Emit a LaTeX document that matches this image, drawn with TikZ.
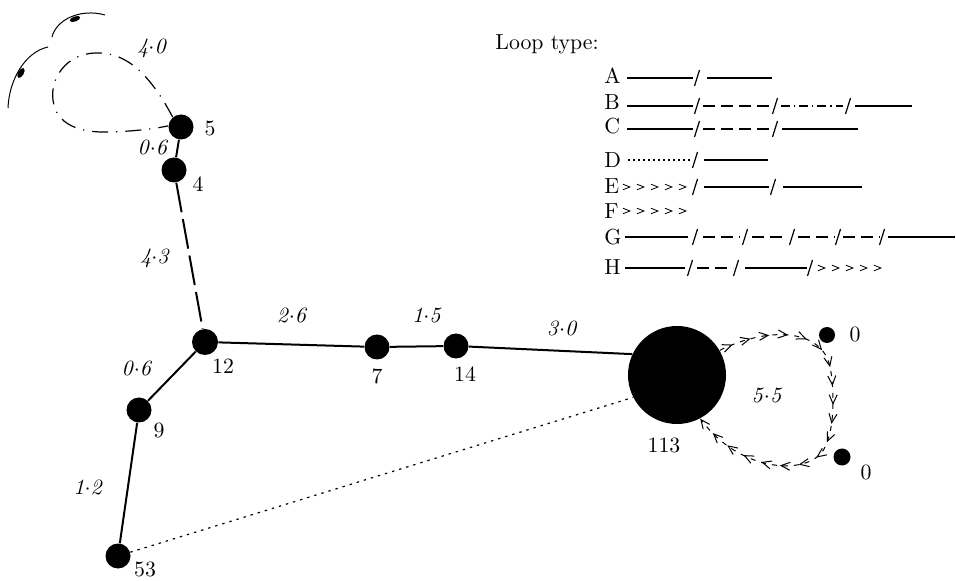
\documentclass[tikz,border=0pt]{standalone}
\usepackage{fontspec}
\usetikzlibrary{arrows.meta,decorations.markings}

% slash marks of the legend rows
\newcommand\lslash[2]{\foreach \sx in {#1} \draw[line width=0.6pt] ({\sx-2.5},{#2+8}) -- ({\sx+2.5},{#2-8});}
% loop length, e.g. 4.0
\newcommand\wlab[2]{\textit{#1}\ensuremath{\cdot}\textit{#2}}

\begin{document}
\begin{tikzpicture}[x=0.5pt,y=-0.5pt,font=\fontsize{10.9}{13}\selectfont,
  vtx/.style={circle,fill,inner sep=0pt,minimum size=#1},
  edge/.style={line width=1pt},
  legsolid/.style={line width=1.3pt},
  legdash/.style={line width=0.6pt,dash pattern=on 6pt off 3pt},
  legdashdot/.style={line width=0.6pt,dash pattern=on 4.5pt off 2pt on 0.6pt off 2pt},
  legdot/.style={line width=0.6pt,dash pattern=on 0.8pt off 1.7pt},
  chevs/.style={postaction={decorate,decoration={markings,
      mark=between positions #1 with {\arrow{>}}}}}]
\useasboundingbox (0,0) rectangle (956,581);

% nodes
\node[vtx=12.5pt] (n5) at (181,127) {};
\node[vtx=12.5pt] (n4) at (174,170) {};
\node[vtx=13pt] (n12) at (205,342) {};
\node[vtx=12.5pt] (n7) at (377,347) {};
\node[vtx=12.5pt] (n14) at (456,346) {};
\node[vtx=12.5pt] (n9) at (139,410) {};
\node[vtx=12.5pt] (n53) at (118,556) {};
\node[vtx=49pt] (n113) at (677,375) {};
\node[vtx=8pt] (n0a) at (827,335) {};
\node[vtx=8.5pt] (n0b) at (842,457) {};

\node (l5) at (210,128) {5};
\node (l4) at (198,184) {4};
\node (l12) at (223,366) {12};
\node (l7) at (377,376) {7};
\node (l14) at (465,374) {14};
\node (l9) at (159,430) {9};
\node (l53) at (145,569) {53};
\node (l113) at (664,445) {113};
\node (l0a) at (855,334) {0};
\node (l0b) at (866,472) {0};

% loop lengths
\node (w40) at (152,48) {\wlab40};
\node (w54) at (153,147) {\wlab06};
\node (w412) at (155,258) {\wlab43};
\node (w127) at (292,315) {\wlab26};
\node (w714) at (427,315) {\wlab15};
\node (w14113) at (562,328) {\wlab30};
\node (w129) at (137,368) {\wlab06};
\node (w953) at (88,487) {\wlab12};
\node (w113) at (767,395) {\wlab55};

% connections
\draw[edge] (n5) -- (n4);
\draw[edge,dash pattern=on 15pt off 3.5pt] (n4) -- (n12);
\draw[edge] (n12) -- (n7) -- (n14);
\draw[edge] (n14) -- (n113.155);
\draw[edge] (n12) -- (n9) -- (n53);
\draw[line width=0.6pt,dash pattern=on 1.2pt off 2.5pt] (n53) -- (n113.207);

\draw[line width=0.6pt,dash pattern=on 8pt off 4pt on 0.6pt off 4pt]
  (n5.130) .. controls (145,65) and (120,52) .. (95,53)
  .. controls (65,54) and (50,80) .. (53,100)
  .. controls (56,125) and (80,133) .. (110,132)
  .. controls (140,131) and (158,128) .. (n5.175);

\begin{scope}[>={Straight Barb[length=4.5pt,width=4pt]}]
\draw[line width=0.5pt,dash pattern=on 2.5pt off 3pt,chevs={7pt and -5pt step 9.5pt},->]
  (n113.30) .. controls (765,328) and (815,328) .. (828,360)
  .. controls (834,375) and (836,425) .. (826,444)
  .. controls (818,475) and (745,478) .. (n113.-62);
\end{scope}

% sketch at top left
\draw[line width=0.5pt] (52,37) .. controls (56,20) and (80,8) .. (105,15);
\fill[rotate around={20:(75,19)}] (75,19) ellipse (5.5 and 2.5);
\draw[line width=0.5pt] (8,108) .. controls (9,80) and (25,52) .. (48,47);
\fill[rotate around={60:(21,73)}] (21,73) ellipse (5.5 and 2.8);

% legend
\node[anchor=base west,inner sep=0pt] (ltitle) at (495,50) {Loop type:};
\begin{scope}[every node/.style={anchor=west,inner sep=0pt},
  >={Straight Barb[length=3.5pt,width=2.8pt]}]
\node (kA) at (604,75.5) {A};
\node (kB) at (604,102.5) {B};
\node (kC) at (604,126.5) {C};
\node (kD) at (604,160) {D};
\node (kE) at (604,186.5) {E};
\node (kF) at (604,211) {F};
\node (kG) at (604,237.5) {G};
\node (kH) at (604,267.5) {H};

\draw[legsolid] (627,78) -- (693,78) (707,78) -- (772,78);
\lslash{697}{78}

\draw[legsolid] (627,106) -- (693,106) (855,106) -- (912,106);
\draw[legdash] (703,106) -- (771,106);
\draw[legdashdot] (781,106) -- (843,106);
\lslash{697,775,848}{106}

\draw[legsolid] (627,129) -- (693,129) (782,129) -- (858,129);
\draw[legdash] (703,129) -- (771,129);
\lslash{697,775}{129}

\draw[legdot] (628,160) -- (691,160);
\draw[legsolid] (704,160) -- (768,160);
\lslash{695}{160}

\path[chevs={4pt and 1 step 7pt}] (623,187) -- (690,187);
\draw[legsolid] (704,187) -- (769,187) (783,187) -- (862,187);
\lslash{695,773}{187}

\path[chevs={4pt and 1 step 7pt}] (623,211) -- (688,211);

\draw[legsolid] (625,237) -- (688,237) (888,237) -- (955,237);
\draw[legdash] (703,237) -- (740,237) (752,237) -- (788,237)
  (798,237) -- (835,237) (843,237) -- (880,237);
\lslash{695,745,792,838,882}{237}

\draw[legsolid] (625,268) -- (685,268) (745,268) -- (807,268);
\draw[legdash] (697,268) -- (733,268);
\path[chevs={4pt and 1 step 7pt}] (818,268) -- (885,268);
\lslash{690,736,810}{268}
\end{scope}

\end{tikzpicture}
\end{document}
